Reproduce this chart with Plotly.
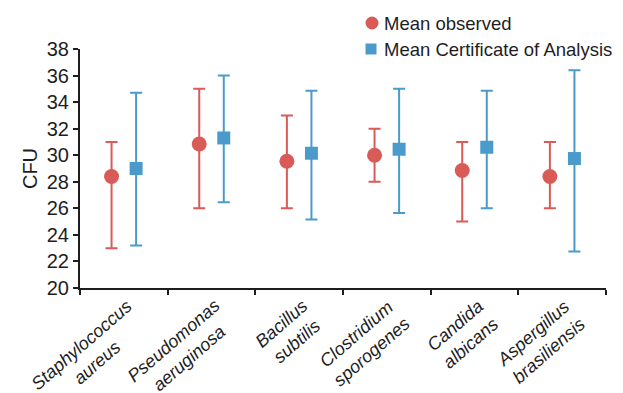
import plotly.graph_objects as go

categories = ["Staphylococcus<br>aureus", "Pseudomonas<br>aeruginosa", "Bacillus<br>subtilis",
              "Clostridium<br>sporogenes", "Candida<br>albicans", "Aspergillus<br>brasiliensis"]
obs_mean = [28.4, 30.85, 29.55, 30.0, 28.85, 28.4]
obs_high = [31.0, 35.0, 33.0, 32.0, 31.0, 31.0]
obs_low = [23.0, 26.0, 26.0, 28.0, 25.0, 26.0]
coa_mean = [29.0, 31.3, 30.15, 30.45, 30.6, 29.75]
coa_high = [34.7, 36.0, 34.85, 35.0, 34.85, 36.4]
coa_low = [23.2, 26.45, 25.15, 25.65, 26.0, 22.75]
y_ticks = [20, 22, 24, 26, 28, 30, 32, 34, 36, 38]
series_names = ["Mean observed", "Mean Certificate of Analysis"]

RED = "#D95B57"
BLUE = "#4A9ACB"
TXT = "#1e1e1e"
FONT = "Liberation Sans, Arial, sans-serif"
off = 0.14
idx = list(range(len(categories)))

W, H = 615, 385
L, R, T, B = 72, 17, 41, 105
PW, PH = W - L - R, H - T - B

fig = go.Figure()
fig.add_trace(go.Scatter(
    x=[i - off for i in idx], y=obs_mean, mode="markers", name=series_names[0],
    marker=dict(symbol="circle", size=15, color=RED), showlegend=False,
    error_y=dict(type="data", symmetric=False,
                 array=[h - m for h, m in zip(obs_high, obs_mean)],
                 arrayminus=[m - l for m, l in zip(obs_mean, obs_low)],
                 color=RED, thickness=2, width=6),
))
fig.add_trace(go.Scatter(
    x=[i + off for i in idx], y=coa_mean, mode="markers", name=series_names[1],
    marker=dict(symbol="square", size=13, color=BLUE), showlegend=False,
    error_y=dict(type="data", symmetric=False,
                 array=[h - m for h, m in zip(coa_high, coa_mean)],
                 arrayminus=[m - l for m, l in zip(coa_mean, coa_low)],
                 color=BLUE, thickness=2, width=6),
))

# category labels (centered two-line, rotated)
annotations = []
for i, c in enumerate(categories):
    annotations.append(dict(x=i, y=0, xref="x", yref="paper", text="<i>%s</i>" % c,
                            showarrow=False, textangle=-41, align="center",
                            xanchor="right", yanchor="top", xshift=30, yshift=-5,
                            font=dict(family=FONT, size=18, color=TXT)))

# legend (manual)
def px_to_paper(px, py):
    return (px - L) / PW, (H - B - py) / PH

shapes = []
lx, ly1 = px_to_paper(364, 15)
_, ly2 = px_to_paper(363, 41)
shapes.append(dict(type="circle", xref="paper", yref="paper", xsizemode="pixel", ysizemode="pixel",
                   xanchor=lx, yanchor=ly1, x0=-6.5, x1=6.5, y0=-6.5, y1=6.5,
                   fillcolor=RED, line=dict(width=0)))
shapes.append(dict(type="rect", xref="paper", yref="paper", xsizemode="pixel", ysizemode="pixel",
                   xanchor=px_to_paper(363, 0)[0], yanchor=ly2, x0=-5.5, x1=5.5, y0=-5.5, y1=5.5,
                   fillcolor=BLUE, line=dict(width=0)))
tx, _ = px_to_paper(374, 0)
annotations.append(dict(x=tx, y=ly1, xref="paper", yref="paper", text=series_names[0], showarrow=False,
                        xanchor="left", yanchor="middle", font=dict(family=FONT, size=18.5, color=TXT)))
annotations.append(dict(x=tx, y=ly2, xref="paper", yref="paper", text=series_names[1], showarrow=False,
                        xanchor="left", yanchor="middle", font=dict(family=FONT, size=18.5, color=TXT)))

fig.update_layout(
    width=W, height=H,
    margin=dict(l=L, r=R, t=T, b=B, autoexpand=False),
    paper_bgcolor="white", plot_bgcolor="white",
    font=dict(family=FONT, size=18, color=TXT),
    showlegend=False,
    annotations=annotations, shapes=shapes,
    xaxis=dict(range=[-0.5, 5.5], tickvals=idx, showticklabels=False,
               ticks="", showline=True, linecolor=TXT, linewidth=2,
               showgrid=False, zeroline=False, automargin=False,
               minor=dict(tick0=-0.5, dtick=1, ticks="outside", ticklen=5, tickwidth=2,
                          tickcolor=TXT, showgrid=False)),
    yaxis=dict(range=[20, 38], tickvals=y_ticks, ticks="outside", ticklen=5, tickwidth=2,
               tickcolor=TXT, showline=True, linecolor=TXT, linewidth=2,
               showgrid=False, zeroline=False, tickfont=dict(size=20), automargin=False,
               title=dict(text="CFU", font=dict(size=20), standoff=4)),
)

fig.write_html("out.html")
